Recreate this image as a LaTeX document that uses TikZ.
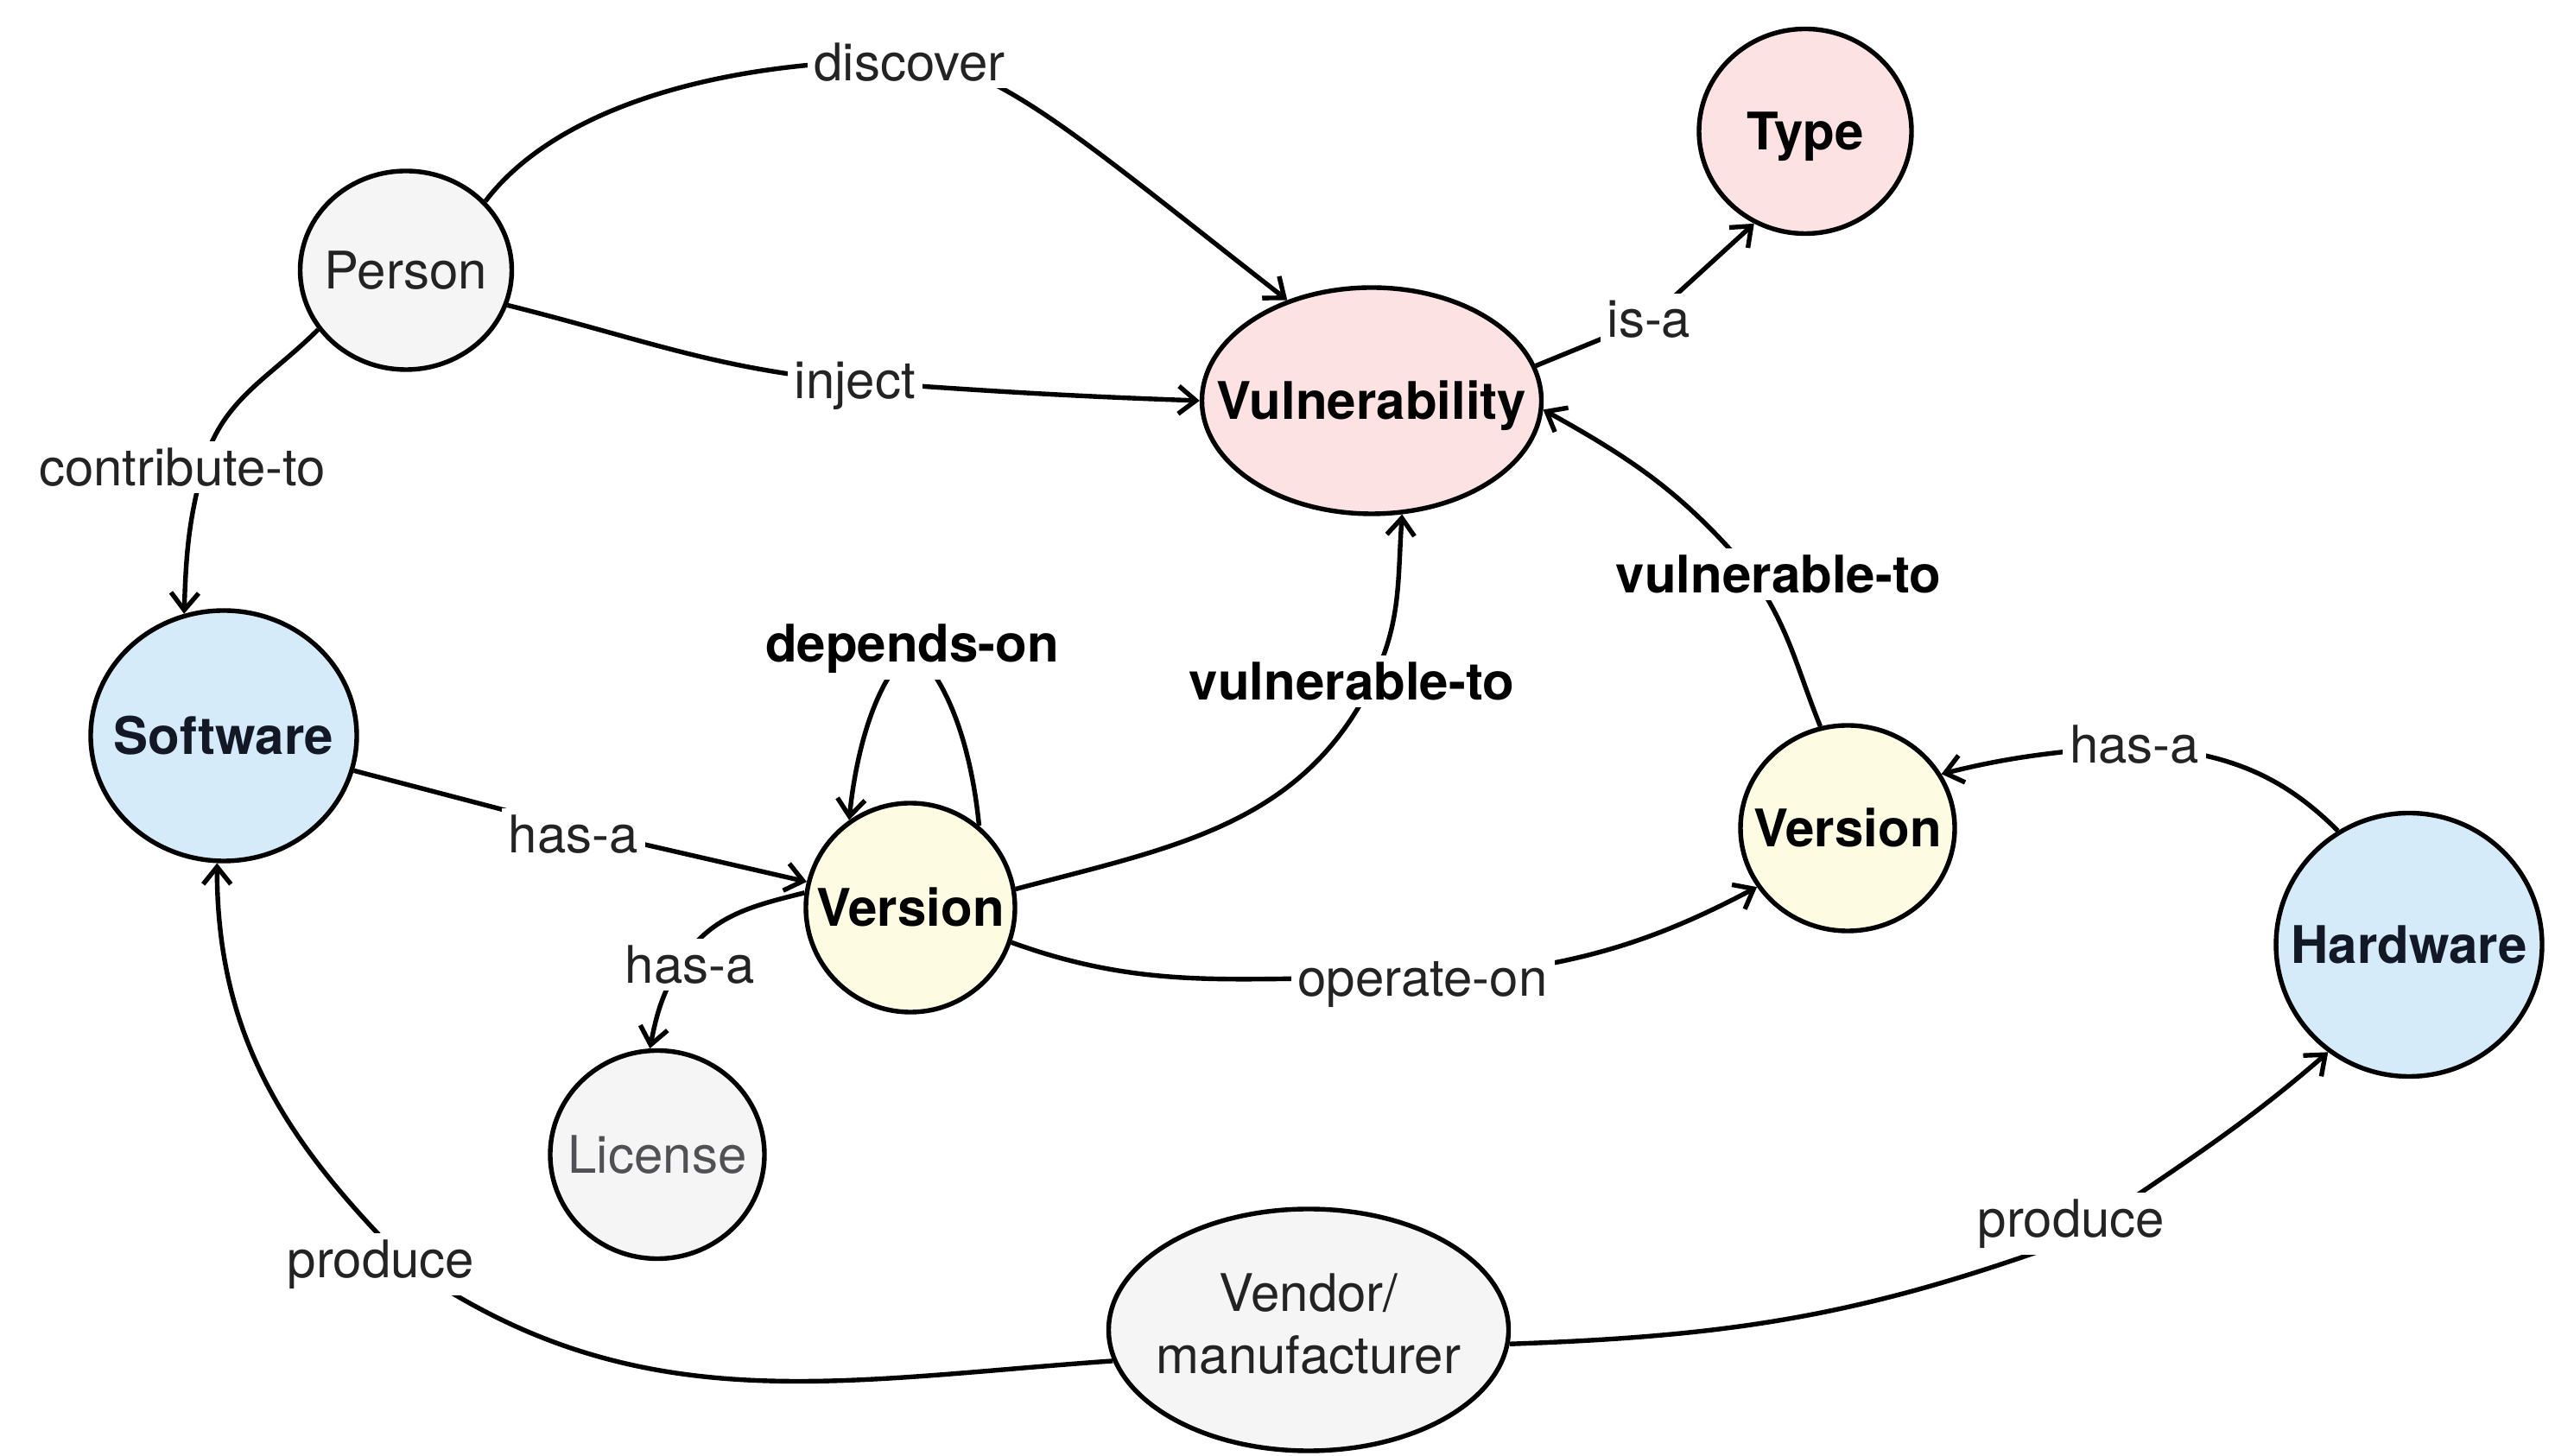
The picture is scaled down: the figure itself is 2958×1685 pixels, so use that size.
\documentclass[tikz,border=0pt]{standalone}
\usepackage{fontspec}
\setmainfont{TeX Gyre Heros}
\usetikzlibrary{shapes.geometric,arrows.meta}
\definecolor{grayfill}{RGB}{245,245,245}
\definecolor{pinkfill}{RGB}{252,226,226}
\definecolor{bluefill}{RGB}{214,235,250}
\definecolor{yellowfill}{RGB}{253,251,226}
\definecolor{darktext}{RGB}{35,35,35}
\definecolor{softtext}{RGB}{80,80,85}
\definecolor{navytext}{RGB}{18,24,38}
\newcommand{\zw}[1]{\makebox[0pt]{#1}}
\begin{document}
\begin{tikzpicture}[x=0.5pt,y=0.5pt,
  every node/.style={font=\fontsize{30}{36}\selectfont},
  ent/.style={ellipse,draw=black,line width=2.7pt,inner sep=0pt,align=center},
  onel/.style={text height=21.5pt,text depth=0pt},
  grayent/.style={ent,fill=grayfill,text=darktext},
  pinkent/.style={ent,onel,fill=pinkfill,text=black,font=\fontsize{30}{36}\selectfont\bfseries},
  blueent/.style={ent,onel,fill=bluefill,text=navytext,font=\fontsize{30}{36}\selectfont\bfseries},
  yellowent/.style={ent,onel,fill=yellowfill,text=black,font=\fontsize{30}{36}\selectfont\bfseries},
  lbl/.style={fill=white,inner sep=4pt,text=darktext},
  blbl/.style={lbl,text=black,font=\fontsize{30}{36}\selectfont\bfseries},
  conn/.style={line width=2.7pt,draw=black},
  conarr/.style={conn,-{Straight Barb[length=10pt,width=16pt]}}]
\useasboundingbox (0,0) rectangle (2958,1685);
\fill[white] (0,0) rectangle (2958,1685);

% entities
\node[grayent,onel,minimum width=122.5pt,minimum height=115pt] (person) at (470,1372) {\zw{Person}};
\node[pinkent,minimum width=196.5pt,minimum height=131pt] (vuln) at (1588,1221) {\zw{Vulnerability}};
\node[pinkent,minimum width=123pt,minimum height=118.5pt] (type) at (2090,1533) {\zw{Type}};
\node[blueent,minimum width=154pt,minimum height=145pt] (software) at (259,833) {\zw{Software}};
\node[yellowent,minimum width=121pt,minimum height=121pt] (v1) at (1054,634) {\zw{Version}};
\node[yellowent,minimum width=124pt,minimum height=119pt] (v2) at (2139,726) {\zw{Version}};
\node[blueent,minimum width=154pt,minimum height=152.5pt] (hw) at (2789,591) {\zw{Hardware}};
\node[grayent,onel,text=softtext,minimum width=124pt,minimum height=120.5pt] (license) at (761,348) {\zw{License}};
\node[grayent,minimum width=231.5pt,minimum height=140pt] (vendor) at (1515,145) {\zw{\begin{tabular}{@{}c@{}}Vendor/\\manufacturer\end{tabular}}};

% path points under the labels
\coordinate (pDis) at (1053,1615);
\coordinate (pInj) at (990,1243);
\coordinate (pIsa) at (1909,1315);
\coordinate (pCon) at (235,1144);
\coordinate (pHas1) at (664,726);
\coordinate (pHas2) at (787,568);
\coordinate (pDep) at (1056,934);
\coordinate (pVt1) at (1589,896);
\coordinate (pVt2) at (2028,1020);
\coordinate (pHas3) at (2471,822);
\coordinate (pOp) at (1647,550);
\coordinate (pPr1) at (472,221);
\coordinate (pPr2) at (2400,250);

% connectors
\draw[conarr] (person.41) .. controls (640,1555) and (820,1615) .. (pDis) .. controls (1150,1615) and (1250,1525) .. (vuln.130);
\draw[conarr] (person.-19) to[out=-14,in=175] (pInj) to[out=-4,in=178] (vuln.180);
\draw[conarr] (vuln.12) -- (pIsa) -- (type.241);
\draw[conarr] (person.214) to[out=225,in=75] (pCon) to[out=-105,in=88] (software.108);
\draw[conarr] (software.-15) -- (pHas1) -- (v1.166);
\draw[conarr] (v1.172) to[out=194,in=59] (pHas2) to[out=-121,in=79] (license.94);
\draw[conarr] (v1.50) .. controls (1125,815) and (1100,895) .. (pDep) .. controls (1010,895) and (990,805) .. (v1.125);
\draw[conarr] (v1.10) to[out=15,in=-116] (pVt1) to[out=64,in=-94] (vuln.-75);
\draw[conarr] (v2.105) to[out=112,in=-55] (pVt2) to[out=130,in=-29] (vuln.-3);
\draw[conarr] (hw.122) to[out=135,in=-5] (pHas3) to[out=185,in=14] (v2.30);
\draw[conarr] (v1.-19) to[out=-20,in=177] (pOp) to[out=5,in=208] (v2.213);
\draw[conarr] (vendor.189) to[out=184,in=-35] (pPr1) to[out=135,in=-90] (software.-93);
\draw[conarr] (vendor.-4) to[out=2,in=200] (pPr2) to[out=35,in=221] (hw.233);

% labels
\node[lbl] (lDis) at (1053,1613) {discover};
\node[lbl] (lInj) at (990,1238) {inject};
\node[lbl] (lIsa) at (1909,1315) {is-a};
\node[lbl] (lCon) at (211,1144) {contribute-to};
\node[lbl] (lHas1) at (664,719) {has-a};
\node[lbl] (lHas2) at (799,568) {has-a};
\node[blbl] (lDep) at (1056,934) {depends-on};
\node[blbl] (lVt1) at (1565,896) {vulnerable-to};
\node[blbl] (lVt2) at (2059,1020) {vulnerable-to};
\node[lbl] (lHas3) at (2471,823) {has-a};
\node[lbl] (lOp) at (1647,545) {operate-on};
\node[lbl] (lPr1) at (441,221) {produce};
\node[lbl] (lPr2) at (2398,268) {produce};
\end{tikzpicture}
\end{document}
